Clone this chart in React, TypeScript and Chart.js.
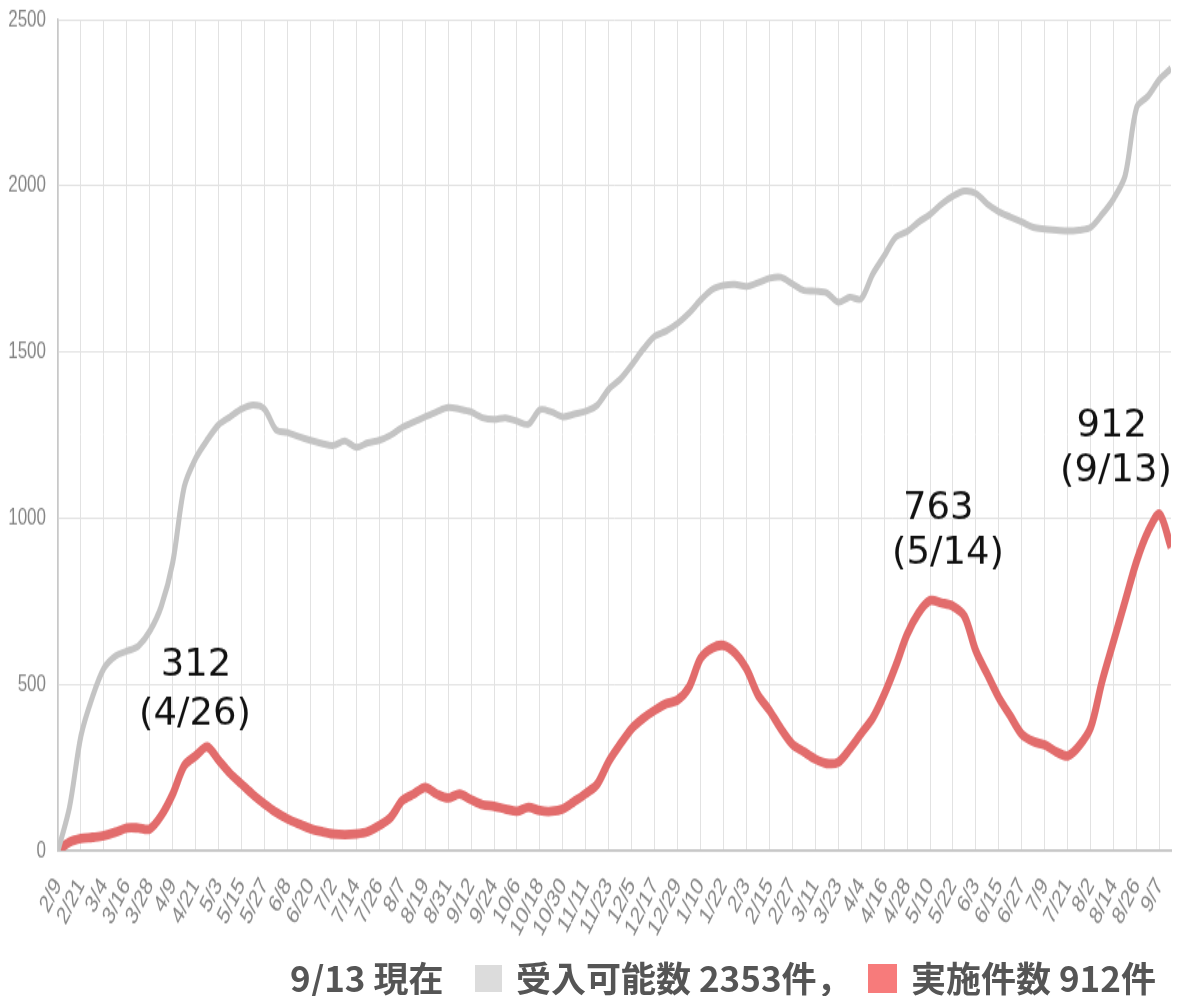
import React, { useEffect, useRef } from 'react';
import { Chart, registerables } from 'chart.js';

Chart.register(...registerables);

// ---- data ----
// x tick labels (every 12 days from 2020-02-09)
const tickLabels = [
  '2/9', '2/21', '3/4', '3/16', '3/28', '4/9', '4/21', '5/3', '5/15', '5/27',
  '6/8', '6/20', '7/2', '7/14', '7/26', '8/7', '8/19', '8/31', '9/12', '9/24',
  '10/6', '10/18', '10/30', '11/11', '11/23', '12/5', '12/17', '12/29', '1/10', '1/22',
  '2/3', '2/15', '2/27', '3/11', '3/23', '4/4', '4/16', '4/28', '5/10', '5/22',
  '6/3', '6/15', '6/27', '7/9', '7/21', '8/2', '8/14', '8/26', '9/7',
];
const yTickValues = [0, 500, 1000, 1500, 2000, 2500];
const TICK_STEP_DAYS = 12;
const SAMPLE_STEP_DAYS = 6; // one reading every 6 days, 2020-02-09 .. 2021-09-13

// 受入可能数 (capacity)
const capacity = [
  0, 130, 345, 462, 548, 585, 600, 615, 660, 735,
  867, 1094, 1180, 1235, 1281, 1305, 1328, 1340, 1328, 1266,
  1258, 1245, 1234, 1225, 1219, 1232, 1213, 1227, 1234, 1250,
  1273, 1289, 1305, 1320, 1333, 1328, 1320, 1302, 1297, 1302,
  1292, 1283, 1326, 1320, 1305, 1313, 1322, 1340, 1388, 1418,
  1461, 1508, 1547, 1563, 1586, 1617, 1656, 1688, 1700, 1703,
  1697, 1708, 1722, 1725, 1705, 1685, 1683, 1678, 1650, 1665,
  1660, 1734, 1789, 1845, 1862, 1891, 1914, 1945, 1969, 1984,
  1977, 1945, 1922, 1906, 1891, 1875, 1870, 1867, 1864, 1867,
  1875, 1914, 1961, 2030, 2235, 2270, 2320, 2353,
];

// 実施件数 (performed)
const performed = [
  0, 25, 36, 40, 45, 55, 68, 68, 65, 105,
  170, 255, 285, 312, 272, 232, 200, 168, 140, 115,
  95, 80, 66, 57, 50, 48, 50, 57, 75, 100,
  150, 170, 190, 170, 158, 170, 153, 138, 133, 125,
  118, 130, 120, 118, 125, 148, 172, 200, 268, 320,
  367, 398, 422, 442, 453, 492, 578, 609, 617, 594,
  547, 469, 422, 367, 320, 297, 275, 262, 266, 305,
  352, 398, 469, 555, 650, 715, 752, 745, 735, 705,
  600, 530, 460, 405, 350, 328, 318, 297, 285, 315,
  370, 510, 630, 750, 870, 960, 1012, 912,
];

const noteTexts = ['312', '(4/26)', '763', '(5/14)', '912', '(9/13)'];

// ---- layout constants ----
const PAGE_W = 1178;
const PAGE_H = 996;
const CANVAS_H = 712; // drawn shorter, displayed stretched vertically
const K = PAGE_H / CANVAS_H;

// where each note text sits (in data coordinates: day offset, value)
const notePlacement = [
  [72.2, 557], [71.6, 406],
  [460.3, 1027], [465.4, 893],
  [551, 1276], [553.2, 1140],
];

const tickDays = tickLabels.map((_, i) => i * TICK_STEP_DAYS);
const toPoints = (arr: number[]) => arr.map((v, i) => ({ x: i * SAMPLE_STEP_DAYS, y: v }));
const LAST_DAY = (capacity.length - 1) * SAMPLE_STEP_DAYS;

const tickFamily = '"Liberation Sans Narrow", "Arial Narrow", "Liberation Sans", Arial, sans-serif';

export default function App() {
  const ref = useRef<HTMLCanvasElement | null>(null);

  useEffect(() => {
    if (!ref.current) return;
    const notesPlugin = {
      id: 'peakNotes',
      afterDatasetsDraw(chart: any) {
        const { ctx, scales } = chart;
        ctx.save();
        ctx.fillStyle = '#111';
        ctx.font = '37px "DejaVu Sans", Verdana, sans-serif';
        ctx.textAlign = 'center';
        ctx.textBaseline = 'middle';
        noteTexts.forEach((t, i) => {
          const [d, v] = notePlacement[i];
          const px = scales.x.getPixelForValue(d);
          const py = scales.y.getPixelForValue(v);
          ctx.save();
          ctx.translate(px, py);
          ctx.scale(1, 1 / K);
          ctx.fillText(t, 0, 0);
          ctx.restore();
        });
        ctx.restore();
      },
    };

    const chart = new Chart(ref.current, {
      type: 'line',
      data: {
        datasets: [
          {
            label: '受入可能数',
            data: toPoints(capacity),
            borderColor: '#c4c4c4',
            borderWidth: 5,
            pointRadius: 0,
            tension: 0.3,
          },
          {
            label: '実施件数',
            data: toPoints(performed),
            borderColor: 'rgba(224,100,100,0.95)',
            borderWidth: 6.8,
            pointRadius: 0,
            tension: 0.3,
          },
        ],
      },
      options: {
        responsive: false,
        animation: false,
        devicePixelRatio: 1,
        layout: { padding: { top: 14, right: 7, left: 0, bottom: 0 } },
        plugins: { legend: { display: false }, tooltip: { enabled: false } },
        scales: {
          x: {
            type: 'linear',
            min: 0,
            max: LAST_DAY,
            afterBuildTicks: (s: any) => {
              s.ticks = tickDays.map((v) => ({ value: v }));
            },
            afterFit: (s: any) => {
              s.height = 104;
              s.paddingLeft = 0;
              s.paddingRight = 0;
            },
            ticks: {
              autoSkip: false,
              minRotation: 56,
              maxRotation: 56,
              padding: 16,
              color: '#858585',
              font: { family: tickFamily, size: 18 },
              callback: (v: any) => {
                const i = tickDays.indexOf(Number(v));
                return i >= 0 ? tickLabels[i] : '';
              },
            },
            grid: { color: '#e2e2e2', lineWidth: 1, drawTicks: false },
            border: { color: '#c8c8c8', width: 2 },
          },
          y: {
            min: 0,
            max: 2500,
            afterBuildTicks: (s: any) => {
              s.ticks = yTickValues.map((v) => ({ value: v }));
            },
            afterFit: (s: any) => {
              s.width = 58;
              s.paddingTop = 0;
              s.paddingBottom = 0;
            },
            ticks: {
              padding: 12,
              color: '#858585',
              font: { family: tickFamily, size: 17 },
              callback: (v: any) => String(v),
            },
            grid: { color: '#e2e2e2', lineWidth: 1, drawTicks: false },
            border: { color: '#c8c8c8', width: 1.5 },
          },
        },
      },
      plugins: [notesPlugin],
    } as any);
    return () => chart.destroy();
  }, []);

  const legendFont: React.CSSProperties = {
    position: 'absolute',
    top: 957,
    height: 40,
    lineHeight: '40px',
    fontFamily: '"Noto Sans CJK JP", "Noto Sans", sans-serif',
    fontWeight: 700,
    fontSize: 35,
    color: '#555',
    whiteSpace: 'nowrap',
  };

  return (
    <div
      style={{
        position: 'absolute',
        left: 0,
        top: 0,
        width: PAGE_W,
        height: PAGE_H,
        background: '#fff',
        overflow: 'hidden',
      }}
    >
      <canvas
        ref={ref}
        width={PAGE_W}
        height={CANVAS_H}
        style={{ width: PAGE_W + 'px', height: PAGE_H + 'px', display: 'block' }}
      />
      <span style={{ ...legendFont, left: 290 }}>9/13 現在</span>
      <span style={{ position: 'absolute', left: 475, top: 965, width: 27, height: 27, background: '#dcdcdc' }} />
      <span style={{ ...legendFont, left: 516 }}>受入可能数 2353件，</span>
      <span style={{ position: 'absolute', left: 868, top: 964, width: 29, height: 29, background: '#f77b7b' }} />
      <span style={{ ...legendFont, left: 911 }}>実施件数 912件</span>
    </div>
  );
}
